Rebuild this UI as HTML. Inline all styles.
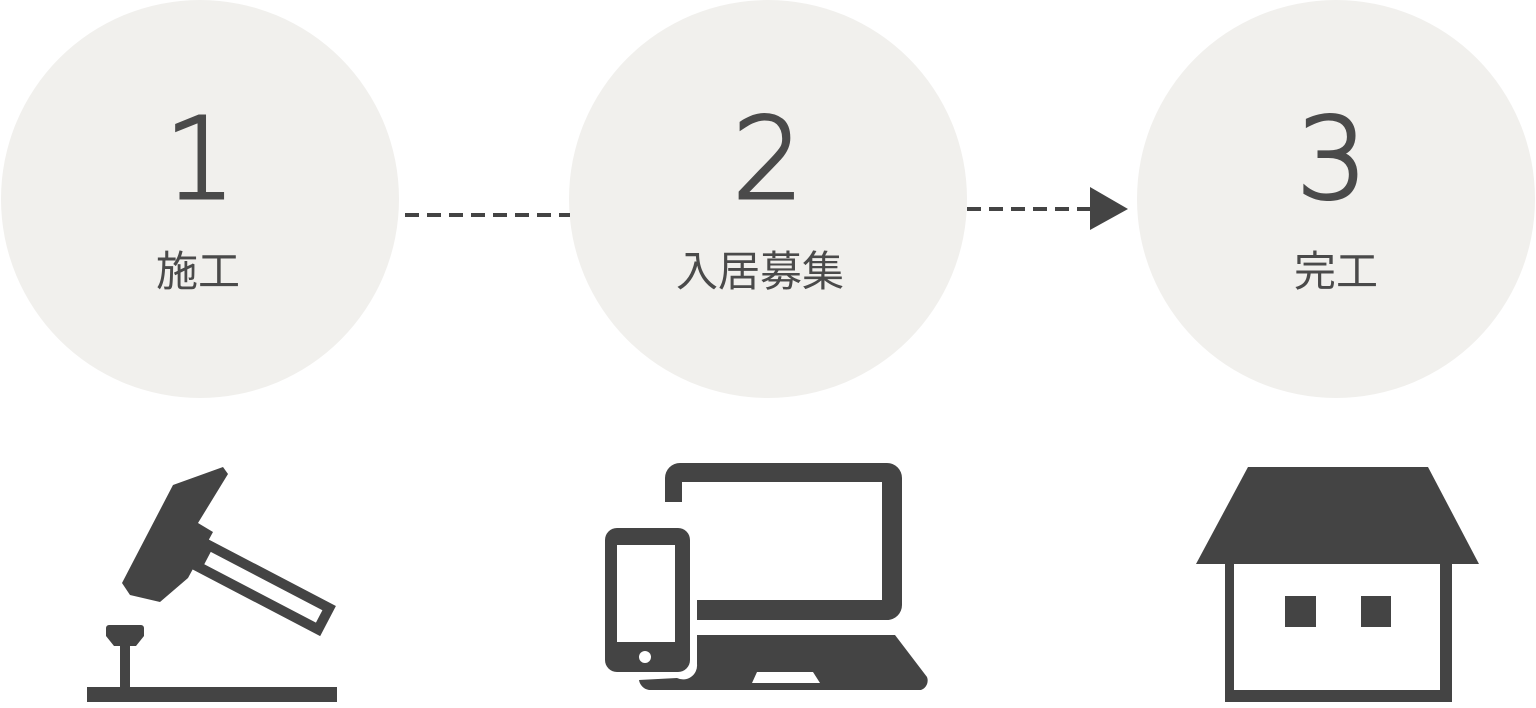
<!DOCTYPE html>
<html><head><meta charset="utf-8"><style>
html,body{margin:0;padding:0;background:#fff;}
body{width:1536px;height:703px;overflow:hidden;}
</style></head><body>
<svg width="1536" height="703" viewBox="0 0 1536 703" xmlns="http://www.w3.org/2000/svg">
<circle cx="200" cy="199" r="199" fill="#f1f0ed"/>
<circle cx="768" cy="199" r="199" fill="#f1f0ed"/>
<circle cx="1336" cy="199" r="199" fill="#f1f0ed"/>
<g fill="#4a4a4a" font-family="DejaVu Sans, sans-serif" font-weight="200" text-anchor="middle" font-size="112" stroke="#4a4a4a" stroke-width="3">
<text x="200" y="198">1</text>
<text x="768" y="198">2</text>
<text x="1332" y="198">3</text>
</g>
<g fill="#4a4a4a" font-family="'Liberation Sans','Noto Sans CJK JP',sans-serif" text-anchor="middle" font-size="42">
<text x="198" y="286">施工</text>
<text x="760" y="286">入居募集</text>
<text x="1336" y="286">完工</text>
</g>
<line x1="405" y1="215" x2="570" y2="215" stroke="#444" stroke-width="4" stroke-dasharray="14 8"/>
<line x1="967" y1="209" x2="1090" y2="209" stroke="#444" stroke-width="4" stroke-dasharray="14 8"/>
<polygon points="1090,187 1128,209 1090,230" fill="#444"/>
<g fill="#444">
<polygon points="173,485 223,467 228,474 198,523 213,532 188,578 160,602 130,595 122,583"/>
<g transform="translate(200,553) rotate(27.6)">
<rect x="4" y="-11" width="136" height="24" fill="none" stroke="#444" stroke-width="10"/>
</g>
<path d="M107,625 h34 a3,3 0 0 1 3,3 v8 l-8,10 h-6 v41 h-10 v-41 h-6 l-8,-10 v-8 a3,3 0 0 1 3,-3 z"/>
<rect x="87" y="687" width="250" height="15"/>
<path fill-rule="evenodd" d="M680,463 h207 a15,15 0 0 1 15,15 v127 a15,15 0 0 1 -15,15 h-190 v-20 h185 v-118 h-200 v20 h-17 v-24 a15,15 0 0 1 15,-15 z"/>
<path d="M697,635 h198 l32,42 a10,10 0 0 1 -6,13 h-272 a12,12 0 0 1 -10,-10 l38,-2 a14,14 0 0 0 20,-14 z"/>
<polygon points="757,672 813,672 820,683 752,683" fill="#fff"/>
<rect x="605" y="528" width="85" height="144" rx="12"/>
<rect x="617" y="545" width="58" height="97" fill="#fff"/>
<circle cx="645" cy="657" r="6" fill="#fff"/>
<polygon points="1248,467 1428,467 1479,564 1196,564"/>
<path fill-rule="evenodd" d="M1225,563 h227 v139 h-227 z M1234,563 v127 h206 v-127 z"/>
<rect x="1285" y="596" width="31" height="31"/>
<rect x="1361" y="596" width="30" height="31"/>
</g>
</svg>
</body></html>
